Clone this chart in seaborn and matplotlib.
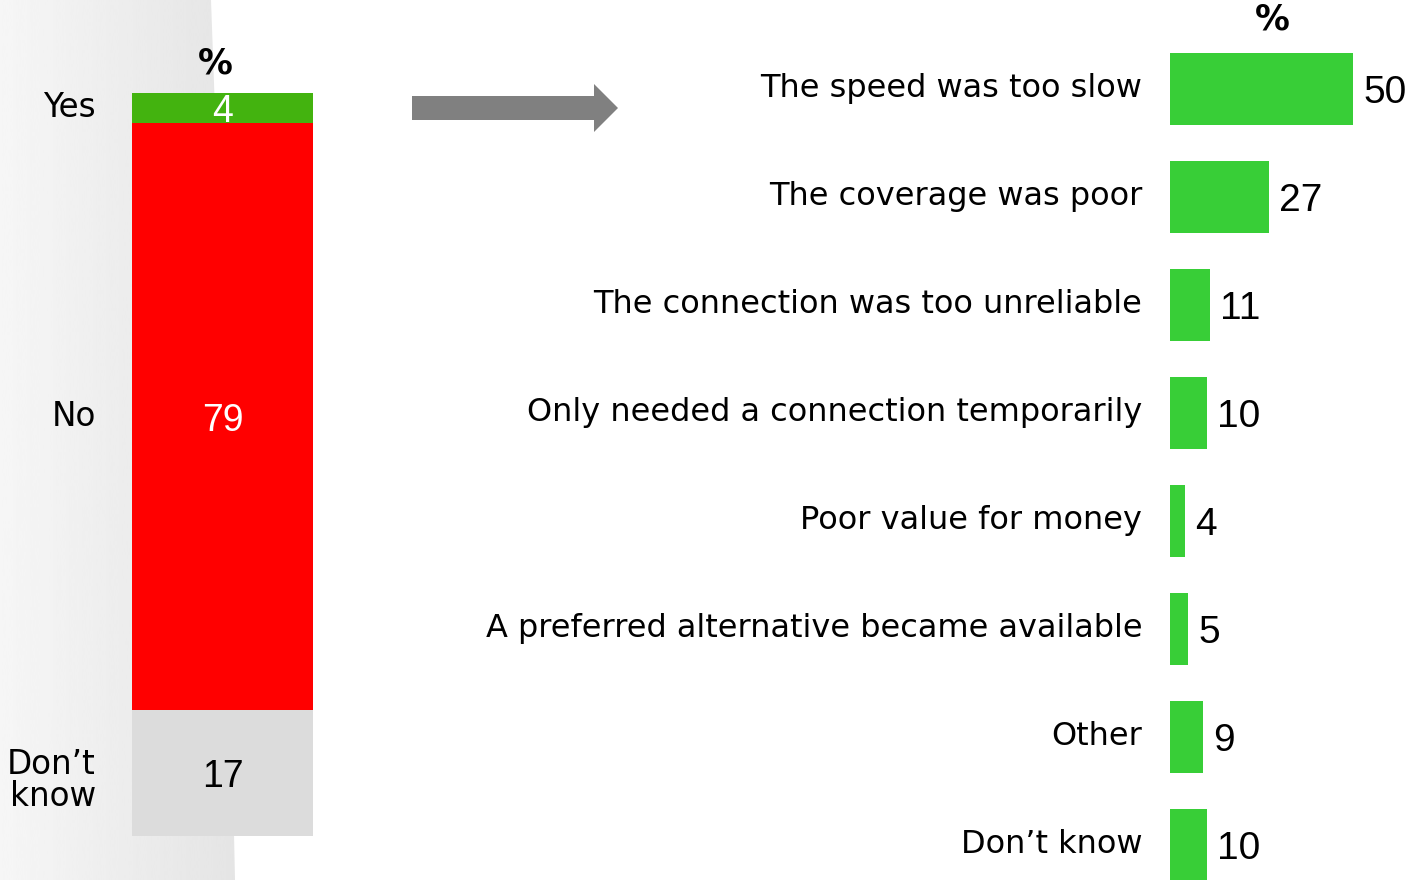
import numpy as np
import matplotlib
matplotlib.use("Agg")
import matplotlib.pyplot as plt
from matplotlib.patches import Polygon
from matplotlib import transforms
import seaborn as sns

# ---------------- data ----------------
left_categories = ["Yes", "No", "Don\u2019t\nknow"]
left_values = [4, 79, 17]
left_colors = ["#43b30f", "#ff0000", "#dcdcdc"]
left_text_colors = ["white", "white", "black"]

right_categories = [
    "The speed was too slow",
    "The coverage was poor",
    "The connection was too unreliable",
    "Only needed a connection temporarily",
    "Poor value for money",
    "A preferred alternative became available",
    "Other",
    "Don\u2019t know",
]
right_values = [50, 27, 11, 10, 4, 5, 9, 10]
right_color = "#38ce37"

W, H = 1416, 880
sns.set_theme(style="white")
plt.rcParams["font.family"] = ["DejaVu Sans"]

fig = plt.figure(figsize=(W / 100, H / 100), dpi=100)
fig.patch.set_facecolor("white")

# ---------------- background decoration ----------------
ax_bg = fig.add_axes([0, 0, 1, 1], zorder=-10)
ax_bg.set_xlim(0, W)
ax_bg.set_ylim(H, 0)
ax_bg.axis("off")
grad = np.linspace(0.965, 0.895, 256).reshape(1, -1)
im = ax_bg.imshow(grad, cmap="gray", vmin=0, vmax=1, aspect="auto",
                  extent=(0, 240, H, 0), interpolation="bicubic")
clip = Polygon([(0, 0), (211, 0), (220, 250), (229, 600), (235, H), (0, H)],
               closed=True, transform=ax_bg.transData, facecolor="none", edgecolor="none")
ax_bg.add_patch(clip)
im.set_clip_path(clip)
ax_bg.add_patch(Polygon([(412, 96), (594, 96), (594, 84), (618, 108), (594, 132),
                         (594, 120), (412, 120)], closed=True,
                        facecolor="#808080", edgecolor="none"))
ax_bg.set_ylim(H, 0)
ax_bg.set_xlim(0, W)

# ---------------- left stacked bar ----------------
ax_l = fig.add_axes([132 / W, (H - 836) / H, 181 / W, 743 / H])
ax_l.patch.set_alpha(0)
cum = np.cumsum(left_values)
for i in range(len(left_values) - 1, -1, -1):
    sns.barplot(x=["Total"], y=[cum[i]], color=left_colors[i], width=1.0,
                saturation=1, ax=ax_l, linewidth=0, edgecolor="none")
ax_l.set_ylim(100, 0)
ax_l.set_xlim(-0.5, 0.5)
ax_l.axis("off")
starts = np.concatenate([[0], cum[:-1]])
trans = transforms.blended_transform_factory(fig.transFigure, ax_l.transData)
for cat, v, s, tc in zip(left_categories, left_values, starts, left_text_colors):
    mid = s + v / 2
    ax_l.text(0, mid + 0.6, f"{v}", ha="center", va="center", color=tc,
              fontsize=27, family="Liberation Sans")
    ax_l.text(96 / W, mid + (1.0 if "\n" in cat else 0.0), cat, transform=trans,
              ha="right", va="center", fontsize=23.5, color="black",
              linespacing=0.95)
fig.text(215 / W, 1 - 64 / H, "%", ha="center", va="center", fontsize=25,
         fontweight="bold", color="black")

# ---------------- right bar chart ----------------
step = 108
top_px = 89 - step / 2
ax_r = fig.add_axes([1170 / W, 0, (W - 1170) / W, (H - top_px) / H])
ax_r.patch.set_alpha(0)
sns.barplot(x=right_values, y=right_categories, orient="h", color=right_color,
            saturation=1, width=72 / step, ax=ax_r, linewidth=0, edgecolor="none")
ax_r.set_xlim(0, (W - 1170) / 3.66)
ax_r.set_ylim(-0.5 + (H - top_px) / step, -0.5)
for sp in ax_r.spines.values():
    sp.set_visible(False)
ax_r.set_xticks([])
ax_r.set_xlabel("")
ax_r.set_ylabel("")
ax_r.tick_params(axis="y", length=0, pad=20, labelsize=23, labelcolor="black")
shift_up = transforms.ScaledTranslation(0, 4 / 100, fig.dpi_scale_trans)
for lab in ax_r.get_yticklabels():
    lab.set_transform(lab.get_transform() + shift_up)
for c in ax_r.containers:
    for rect, v in zip(c, right_values):
        ax_r.text(rect.get_width(), rect.get_y() + rect.get_height() / 2 + 0.04,
                  f"{v}", ha="left", va="center", fontsize=28,
                  family="Liberation Sans", color="black",
                  transform=ax_r.transData + transforms.ScaledTranslation(10 / 100, 0, fig.dpi_scale_trans))
fig.text(1272 / W, 1 - 20 / H, "%", ha="center", va="center", fontsize=25,
         fontweight="bold", color="black")

fig.savefig("out.png", dpi=100, facecolor="white")
